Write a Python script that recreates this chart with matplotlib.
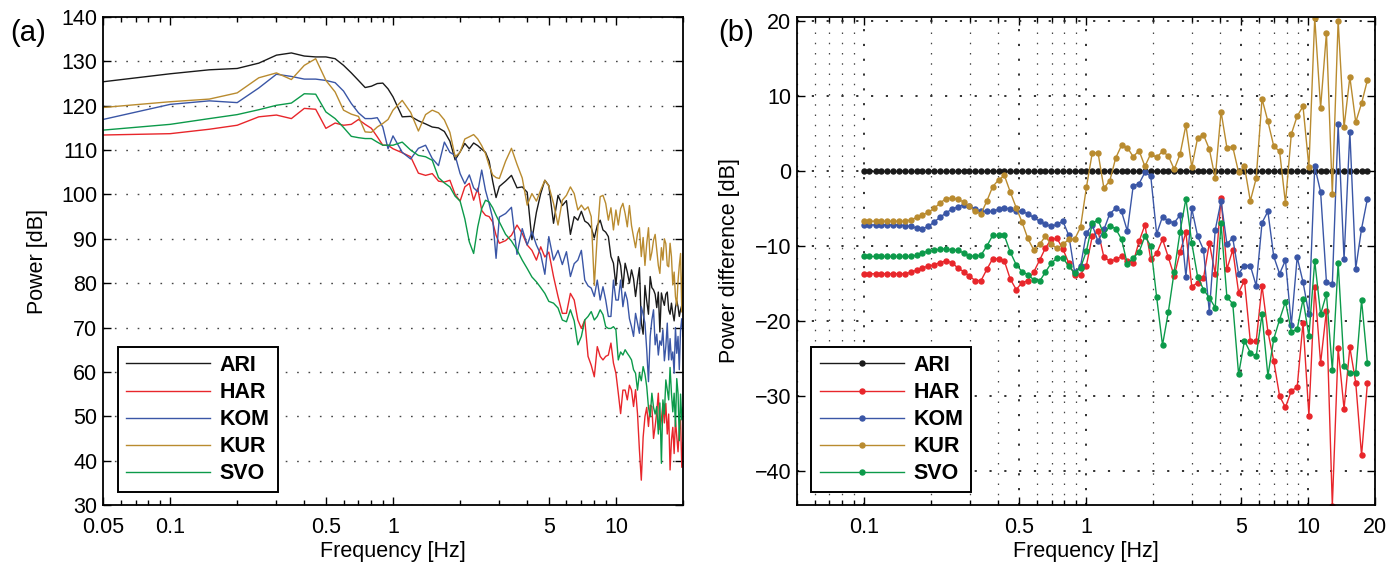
import numpy as np
import matplotlib
matplotlib.use('Agg')
import matplotlib.pyplot as plt
from matplotlib.ticker import FixedLocator, LogLocator, NullFormatter

plt.rcParams['font.family'] = ['Liberation Sans', 'DejaVu Sans']

stations = ['ARI', 'HAR', 'KOM', 'KUR', 'SVO']
colors = {'ARI': '#1a1a1a', 'HAR': '#e8262b', 'KOM': '#3a56a6',
          'KUR': '#b98b2f', 'SVO': '#0c9a4a'}

# ---- panel (a): power spectra -------------------------------------------
freq_a = [0.05, 0.10, 0.15, 0.20, 0.25, 0.30, 0.35, 0.40, 0.45, 0.50,
          0.55, 0.60, 0.65, 0.70, 0.75, 0.80, 0.85, 0.90, 0.95, 1.00,
          1.1, 1.2, 1.3, 1.4, 1.5, 1.6, 1.7, 1.8, 1.9, 2.0,
          2.1, 2.2, 2.3, 2.4, 2.5, 2.6, 2.7, 2.8, 2.9, 3.0,
          3.2, 3.4, 3.6, 3.8, 4.0, 4.2, 4.4, 4.6, 4.8, 5.0,
          5.25, 5.5, 5.75, 6.0, 6.25, 6.5, 6.75, 7.0, 7.25, 7.5,
          7.75, 8.0, 8.25, 8.5, 8.75, 9.0, 9.25, 9.5, 9.75, 10.0,
          10.25, 10.5, 10.75, 11.0, 11.25, 11.5, 11.75, 12.0, 12.25, 12.5,
          12.75, 13.0, 13.25, 13.5, 13.75, 14.0, 14.25, 14.5, 14.75, 15.0,
          15.25, 15.5, 15.75, 16.0, 16.25, 16.5, 16.75, 17.0, 17.25, 17.5,
          17.75, 18.0, 18.25, 18.5, 18.75, 19.0, 19.25, 19.5, 19.75, 20.0]

power_ari = [125.4, 127.2, 128.1, 128.4, 129.6, 131.4, 131.9, 131.2, 131.0, 131.0,
             130.6, 129.1, 127.4, 125.7, 124.1, 124.4, 125.0, 125.1, 123.8, 122.0,
             117.5, 117.6, 116.6, 115.9, 115.2, 115.0, 114.2, 112.0, 107.8, 109.6,
             111.5, 110.3, 111.6, 111.0, 110.2, 109.5, 107.5, 103.0, 99.3, 101.8,
             103.0, 104.3, 101.5, 101.7, 100.5, 89.8, 96.0, 100.2, 103.2, 102.0,
             93.5, 99.8, 97.5, 98.6, 91.0, 95.0, 94.2, 96.2, 94.0, 93.5,
             92.5, 90.2, 93.0, 94.2, 92.0, 91.5, 90.5, 86.0, 84.5, 79.5,
             86.0, 84.0, 79.0, 84.5, 82.5, 80.0, 83.0, 81.0, 77.0, 80.5,
             83.5, 71.0, 68.5, 79.5, 76.0, 73.0, 81.5, 79.0, 78.5, 77.5,
             74.5, 78.0, 69.0, 77.8, 76.2, 75.0, 77.5, 78.0, 74.0, 73.0,
             75.5, 73.2, 71.5, 74.5, 76.0, 74.7, 72.5, 74.0, 75.0, 73.5]

power_har = [113.4, 113.7, 114.7, 115.6, 117.5, 117.9, 117.1, 119.4, 119.2, 114.9,
             116.1, 115.6, 115.8, 116.9, 115.8, 114.9, 113.0, 111.1, 111.1, 110.3,
             109.4, 108.5, 104.8, 104.3, 104.7, 103.0, 102.8, 103.2, 100.0, 98.5,
             101.7, 102.5, 98.7, 101.4, 96.4, 95.3, 95.0, 93.8, 90.8, 89.0,
             89.6, 90.8, 93.1, 91.2, 88.6, 87.4, 85.2, 88.2, 85.9, 87.0,
             81.5, 77.0, 73.2, 73.2, 77.7, 76.2, 71.7, 69.8, 71.7, 63.5,
             61.5, 58.9, 65.7, 63.5, 62.7, 63.5, 63.8, 66.5, 62.0, 59.7,
             55.2, 50.6, 55.9, 55.9, 53.7, 57.0, 55.9, 52.2, 56.0, 50.6,
             42.4, 35.6, 45.3, 49.9, 52.0, 47.7, 52.5, 52.2, 45.0, 47.7,
             51.0, 55.2, 47.0, 49.2, 52.9, 48.5, 52.9, 46.0, 50.5, 37.9,
             44.6, 47.5, 41.6, 49.2, 45.5, 42.0, 47.0, 49.2, 38.5, 44.0]

power_kom = [116.9, 120.3, 121.1, 120.7, 124.0, 127.1, 126.6, 126.0, 126.0, 125.7,
             125.2, 123.3, 120.5, 118.4, 117.1, 117.1, 117.3, 115.2, 110.3, 113.2,
             109.5, 108.0, 110.4, 111.1, 108.1, 106.5, 111.8, 109.5, 108.8, 104.7,
             102.4, 104.4, 101.5, 100.6, 105.5, 100.9, 97.9, 94.6, 85.6, 94.9,
             95.7, 97.1, 86.5, 92.3, 88.6, 91.6, 88.6, 86.5, 82.0, 90.5,
             85.2, 87.4, 84.2, 87.1, 81.5, 84.4, 85.2, 87.4, 80.7, 79.4,
             78.9, 77.0, 80.7, 76.2, 79.2, 76.2, 72.5, 72.5, 80.7, 76.2,
             76.2, 80.7, 74.7, 78.0, 76.2, 72.0, 70.2, 68.0, 73.2, 71.0,
             68.7, 74.7, 73.0, 71.0, 65.0, 57.8, 68.0, 71.7, 74.0, 66.1,
             68.5, 63.8, 67.0, 66.0, 69.5, 62.5, 65.7, 71.0, 62.7, 67.5,
             62.7, 64.5, 59.7, 70.0, 64.2, 68.0, 60.5, 69.5, 72.0, 68.0]

power_kur = [119.6, 120.9, 121.5, 122.9, 126.3, 127.4, 125.9, 129.1, 130.6, 125.7,
             123.1, 119.0, 118.1, 117.6, 114.1, 114.0, 115.2, 116.0, 116.9, 119.0,
             121.2, 118.5, 114.3, 118.0, 119.0, 118.4, 116.8, 114.0, 108.5, 109.5,
             112.5, 113.0, 113.5, 112.5, 111.0, 109.2, 106.5, 104.4, 103.8, 103.6,
             107.5, 110.4, 106.8, 103.7, 97.6, 100.2, 98.5, 101.0, 103.2, 101.9,
             98.0, 93.1, 98.7, 99.8, 101.7, 100.2, 96.5, 97.6, 96.5, 97.2,
             95.0, 79.5, 90.8, 99.5, 99.8, 98.0, 94.2, 97.0, 92.0, 96.5,
             93.1, 96.8, 98.0, 95.7, 92.7, 97.5, 93.0, 90.4, 88.0, 91.2,
             92.5, 86.0, 90.3, 84.0, 88.9, 92.5, 85.2, 87.0, 89.7, 91.0,
             87.5, 84.0, 82.2, 88.0, 85.2, 90.0, 88.9, 84.0, 83.7, 89.0,
             86.0, 79.6, 82.5, 77.0, 75.0, 80.5, 84.0, 86.7, 73.5, 86.7]

power_svo = [114.5, 115.8, 117.1, 118.0, 119.1, 120.1, 120.6, 122.7, 122.6, 118.6,
             117.1, 115.1, 113.1, 112.8, 112.6, 112.6, 111.8, 111.1, 111.1, 111.1,
             111.8, 110.0, 108.8, 108.5, 107.7, 103.8, 102.6, 101.7, 99.6, 98.5,
             94.5, 89.3, 86.7, 92.7, 96.8, 98.7, 98.3, 97.0, 95.3, 93.8,
             91.0, 89.5, 87.5, 85.2, 83.3, 81.4, 80.3, 79.0, 77.7, 75.9,
             75.5, 74.4, 71.7, 71.3, 74.0, 71.5, 66.1, 68.0, 71.7, 72.5,
             73.6, 71.7, 72.5, 74.0, 72.9, 70.2, 69.8, 69.8, 70.2, 69.5,
             62.7, 64.5, 63.8, 65.0, 64.2, 63.5, 62.7, 60.5, 59.7, 55.9,
             59.7, 58.0, 61.2, 59.5, 56.7, 52.0, 49.9, 55.2, 52.0, 50.5,
             52.2, 46.0, 53.0, 39.4, 53.7, 50.5, 58.2, 56.0, 53.7, 61.0,
             55.2, 51.0, 55.2, 47.7, 58.5, 55.2, 44.5, 55.0, 49.2, 52.0]

power = {'ARI': power_ari, 'HAR': power_har, 'KOM': power_kom,
         'KUR': power_kur, 'SVO': power_svo}

# ---- panel (b): power difference relative to ARI ------------------------
freq_b = [0.100, 0.106, 0.113, 0.120, 0.127, 0.135, 0.144, 0.153, 0.163, 0.173,
          0.183, 0.195, 0.207, 0.220, 0.234, 0.249, 0.264, 0.281, 0.298, 0.317,
          0.337, 0.358, 0.380, 0.404, 0.429, 0.456, 0.485, 0.515, 0.547, 0.581,
          0.618, 0.656, 0.697, 0.741, 0.787, 0.837, 0.889, 0.945, 1.004, 1.067,
          1.133, 1.204, 1.280, 1.360, 1.445, 1.535, 1.631, 1.733, 1.842, 1.957,
          2.080, 2.210, 2.348, 2.495, 2.651, 2.817, 2.993, 3.181, 3.380, 3.591,
          3.816, 4.055, 4.308, 4.578, 4.864, 5.169, 5.492, 5.836, 6.201, 6.589,
          7.002, 7.440, 7.905, 8.400, 8.926, 9.484, 10.08, 10.71, 11.38, 12.09,
          12.85, 13.65, 14.51, 15.41, 16.38, 17.40, 18.49]

diff_ari = [0.0] * len(freq_b)

diff_har = [-13.7, -13.7, -13.7, -13.7, -13.7, -13.7, -13.7, -13.7,
            -13.5, -13.2, -12.9, -12.7, -12.5, -12.2, -12.0, -12.2, -12.9, -13.4,
            -14.0, -14.6, -14.6, -13.1, -11.7, -11.7, -12.0, -14.4, -15.8, -14.9,
            -14.6, -13.5, -11.9, -10.3, -9.1, -9.0, -10.4, -12.3, -13.9, -13.8,
            -12.6, -8.7, -8.0, -11.5, -12.0, -11.8, -11.4, -12.0, -12.2, -9.4,
            -7.2, -11.8, -11.0, -9.1, -11.5, -14.0, -10.8, -8.2, -15.4, -14.9,
            -14.3, -9.6, -13.7, -3.6, -13.1, -10.5, -16.2, -14.6, -22.7, -22.7,
            -15.3, -21.4, -25.3, -30.0, -31.5, -29.3, -28.8, -20.2, -32.6, -15.4,
            -25.6, -18.6, -44.6, -23.6, -31.7, -23.5, -28.2, -37.9, -28.2]

diff_kom = [-7.2, -7.2, -7.2, -7.2, -7.2, -7.2, -7.2,
            -7.3, -7.4, -7.6, -7.7, -7.4, -6.8, -6.2, -5.6, -5.1, -4.8,
            -4.5, -4.7, -5.1, -5.4, -5.4, -5.4, -5.1, -4.9, -5.1, -5.4,
            -5.4, -5.7, -6.2, -6.7, -7.1, -7.4, -7.1, -6.7, -8.6, -13.5,
            -12.7, -8.3, -7.2, -9.4, -7.8, -5.7, -5.0, -5.4, -8.0, -2.0,
            -1.7, -0.2, -0.7, -8.4, -6.1, -6.7, -6.9, -5.9, -14.1, -5.0,
            -8.7, -10.5, -18.8, -7.9, -4.0, -9.7, -8.95, -13.7, -12.6, -12.6,
            -15.3, -6.9, -5.4, -11.4, -13.7, -11.9, -20.5, -11.5, -14.8, -19.1,
            0.6, -2.8, -14.8, -15.1, 6.2, -11.8, 5.2, -13.0, -7.7, -3.7]

diff_kur = [-6.7, -6.7, -6.7, -6.7, -6.7, -6.7, -6.7, -6.7,
            -6.5, -6.2, -5.9, -5.5, -5.0, -4.3, -3.7, -3.6, -3.8, -4.1,
            -4.7, -5.4, -5.7, -4.0, -2.1, -1.2, -0.6, -2.8, -4.9, -6.8,
            -9.0, -10.5, -9.8, -8.7, -9.8, -10.3, -9.8, -9.1, -9.1, -7.5,
            -2.2, 2.4, 2.4, -2.3, -1.3, 1.7, 3.4, 3.1, 1.9, 2.7,
            0.6, 2.3, 1.8, 2.6, 2.0, 0.2, 2.2, 6.1, 0.5, 4.4,
            4.8, 2.9, -1.0, 7.9, 3.1, 3.2, -0.2, 0.6, -4.0, -1.0,
            9.6, 6.6, 3.3, 2.6, -4.3, 4.9, 7.3, 8.6, 0.5, 20.4,
            8.4, 18.4, -3.1, 20.0, 5.8, 12.5, 6.5, 9.0, 12.1]

diff_svo = [-11.4, -11.4, -11.4, -11.4, -11.4, -11.4, -11.4, -11.4,
            -11.4, -11.2, -10.9, -10.7, -10.6, -10.4, -10.4, -10.5, -10.6, -10.9,
            -11.3, -11.4, -11.2, -10.0, -8.6, -8.6, -8.6, -10.8, -12.5, -13.4,
            -13.8, -14.5, -14.7, -13.5, -12.3, -11.6, -11.6, -12.7, -13.6, -12.9,
            -10.7, -7.0, -6.5, -8.5, -7.3, -7.7, -9.1, -12.4, -11.6, -10.8,
            -8.7, -10.0, -16.8, -23.2, -18.8, -13.4, -8.1, -3.7, -9.6, -14.1,
            -15.8, -16.9, -18.2, -7.0, -16.8, -17.7, -27.1, -22.6, -24.2, -24.7,
            -19.1, -27.3, -22.4, -19.8, -17.4, -21.4, -21.1, -17.1, -22.0, -12.0,
            -19.1, -16.4, -26.5, -12.2, -26.0, -26.9, -26.9, -17.2, -25.6]

diff = {'ARI': diff_ari, 'HAR': diff_har, 'KOM': diff_kom,
        'KUR': diff_kur, 'SVO': diff_svo}

W, H = 1390, 566
fig = plt.figure(figsize=(W / 100, H / 100), dpi=100)
axA = fig.add_axes([103 / W, (H - 505) / H, 580 / W, 488 / H])
axB = fig.add_axes([797 / W, (H - 505) / H, 578 / W, 488 / H])

dotted = (0, (1.2, 7.0))


def style_axis(ax, xticks, xlabels):
    ax.set_xscale('log')
    ax.set_xlim(0.05, 20)
    ax.xaxis.set_major_locator(FixedLocator(xticks))
    ax.set_xticklabels(xlabels)
    ax.xaxis.set_minor_locator(LogLocator(base=10, subs=np.arange(2, 10)))
    ax.xaxis.set_minor_formatter(NullFormatter())
    ax.tick_params(which='both', direction='in', top=True, right=True,
                   labelsize=15.5, width=1.0)
    ax.tick_params(which='major', length=6)
    ax.tick_params(which='minor', length=3.5)
    ax.tick_params(axis='x', pad=8.5)
    ax.tick_params(axis='y', pad=4)
    for s in ax.spines.values():
        s.set_linewidth(1.3)
    ax.set_xlabel('Frequency [Hz]', fontsize=15.5)
    ax.xaxis.set_label_coords(0.5, -0.074)


# panel (a)
for st in stations:
    axA.plot(freq_a, power[st], color=colors[st], lw=1.0, label=st)
style_axis(axA, [0.05, 0.1, 0.5, 1, 5, 10], ['0.05', '0.1', '0.5', '1', '5', '10'])
axA.set_ylim(30, 140)
axA.set_yticks(np.arange(30, 141, 10))
axA.yaxis.grid(True, linestyle=dotted, color='#444444', lw=1.0)
axA.set_ylabel('Power [dB]', fontsize=15.5)
axA.yaxis.set_label_coords(-0.095, 0.5)

# panel (b)
for st in stations:
    axB.plot(freq_b, diff[st], color=colors[st], lw=1.0, marker='o',
             markersize=3.6, label=st)
style_axis(axB, [0.1, 0.5, 1, 5, 10, 20], ['0.1', '0.5', '1', '5', '10', '20'])
axB.set_ylim(-44.5, 20.5)
axB.set_yticks(np.arange(-40, 21, 10))
axB.grid(True, which='major', linestyle=dotted, color='#222222', lw=1.3)
axB.xaxis.grid(True, which='minor', linestyle=dotted, color='#444444', lw=0.9)
axB.set_ylabel('Power difference [dB]', fontsize=15.5)
axB.yaxis.set_label_coords(-0.099, 0.5)

for ax in (axA, axB):
    leg = ax.legend(loc='lower left', bbox_to_anchor=(0.025, 0.026),
                    borderaxespad=0, fancybox=False, framealpha=1,
                    edgecolor='black', handlelength=3.9, handletextpad=0.45,
                    labelspacing=0.28, borderpad=0.38,
                    prop={'weight': 'bold', 'size': 15.5})
    leg.get_frame().set_linewidth(1.4)

fig.text(10 / W, 1 - 33 / H, '(a)', fontsize=21, va='center', ha='left')
fig.text(718 / W, 1 - 33 / H, '(b)', fontsize=21, va='center', ha='left')

fig.savefig('out.png', dpi=100)
